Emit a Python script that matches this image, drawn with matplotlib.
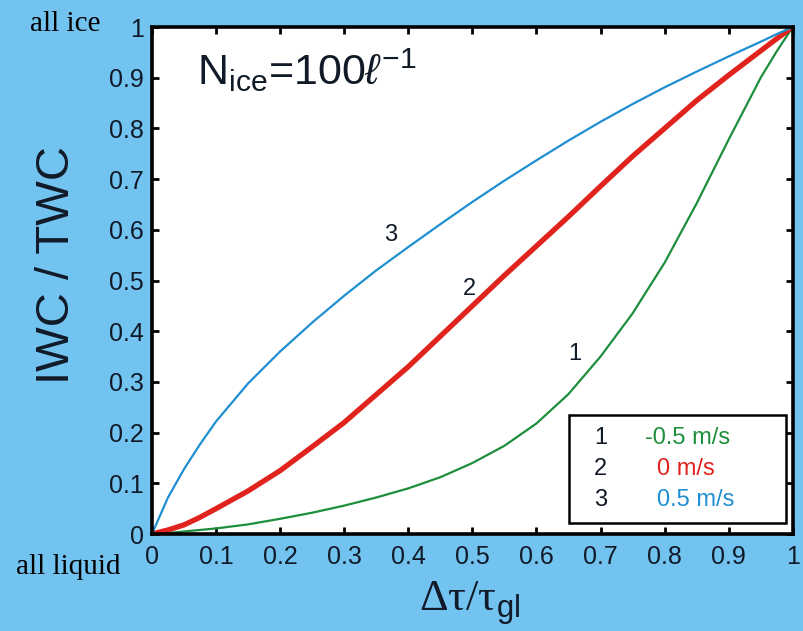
import matplotlib
matplotlib.use("Agg")
import matplotlib.pyplot as plt
from matplotlib.patches import Rectangle

# values
x = [0.0, 0.025, 0.05, 0.075, 0.1, 0.15, 0.2, 0.25, 0.3, 0.35, 0.4, 0.45, 0.5,
     0.55, 0.6, 0.65, 0.7, 0.75, 0.8, 0.85, 0.9, 0.95, 0.975, 1.0]
ratio_down = [0.0, 0.002, 0.005, 0.008, 0.011, 0.019, 0.03, 0.042, 0.056, 0.072, 0.09, 0.112, 0.14,
              0.174, 0.218, 0.276, 0.35, 0.435, 0.535, 0.652, 0.778, 0.9, 0.952, 1.0]
ratio_zero = [0.0, 0.008, 0.018, 0.033, 0.05, 0.085, 0.125, 0.172, 0.22, 0.275, 0.33, 0.39, 0.45,
              0.51, 0.568, 0.626, 0.686, 0.745, 0.80, 0.855, 0.905, 0.953, 0.977, 1.0]
ratio_up = [0.0, 0.072, 0.128, 0.177, 0.222, 0.297, 0.36, 0.417, 0.47, 0.52, 0.566, 0.611, 0.655,
            0.697, 0.737, 0.776, 0.813, 0.848, 0.881, 0.912, 0.942, 0.971, 0.986, 1.0]

curve_ids = ["1", "2", "3"]
speeds = ["-0.5 m/s", "0 m/s", "0.5 m/s"]
colors = ["#1d8f3c", "#e0231d", "#1f8fd2"]
ticks = [0, 0.1, 0.2, 0.3, 0.4, 0.5, 0.6, 0.7, 0.8, 0.9, 1]
tick_labels = ["0", "0.1", "0.2", "0.3", "0.4", "0.5", "0.6", "0.7", "0.8", "0.9", "1"]

plt.rcParams["font.family"] = ["Liberation Sans", "DejaVu Sans"]
plt.rcParams["mathtext.fontset"] = "custom"
plt.rcParams["mathtext.rm"] = "Liberation Serif"
plt.rcParams["mathtext.sf"] = "Liberation Sans"
plt.rcParams["mathtext.it"] = "Liberation Sans:italic"

bg = "#72c3ef"
ink = "#111a28"

fig = plt.figure(figsize=(8.04, 6.31), dpi=100, facecolor=bg)
ax = fig.add_axes([0.189, 0.1537, 0.797, 0.8035])

ax.plot(x, ratio_down, color=colors[0], lw=1.6, solid_joinstyle="round")
ax.plot(x, ratio_zero, color=colors[1], lw=3.8, solid_joinstyle="round")
ax.plot(x, ratio_up, color=colors[2], lw=1.6, solid_joinstyle="round")

ax.set_xlim(0, 1)
ax.set_ylim(0, 1)
ax.set_xticks(ticks)
ax.set_xticklabels(tick_labels)
ax.set_yticks(ticks)
ax.set_yticklabels(tick_labels)
ax.tick_params(direction="in", length=5, width=2, top=True, right=True,
               labelsize=18, labelcolor=ink)
ax.tick_params(axis="x", pad=8)
ax.tick_params(axis="y", pad=6)
for s in ax.spines.values():
    s.set_linewidth(2.6)

# curve numbers
ax.text(0.66, 0.356, curve_ids[0], fontsize=17, ha="center", va="center", color=ink)
ax.text(0.496, 0.484, curve_ids[1], fontsize=17, ha="center", va="center", color=ink)
ax.text(0.372, 0.589, curve_ids[2], fontsize=17, ha="center", va="center", color=ink)

# N_ice annotation
ax.text(0.07, 0.886, r"$\mathsf{N_{ice}}$=100$\ell^{\mathsf{-1}}$",
        fontsize=31, ha="left", va="baseline", color=ink)

# legend box
ax.add_patch(Rectangle((0.651, 0.022), 0.338, 0.213, fill=False, lw=1.8,
                       ec="black", transform=ax.transData, zorder=5))
rows = [0.19, 0.128, 0.068]
for i in range(3):
    ax.text(0.700, rows[i], curve_ids[i], fontsize=17, ha="center", va="center", color=ink)
    ax.text(0.77 if i == 0 else 0.788, rows[i], speeds[i], fontsize=17,
            ha="left", va="center", color=colors[i])

# axis labels
fig.text(57 / 804, 1 - 265 / 631, "IWC / TWC", rotation=90, fontsize=34,
         ha="center", va="center", color=ink)
fig.text(470 / 804, 1 - 603 / 631, r"$\mathrm{\Delta\tau/\tau}_{\mathsf{gl}}$",
         fontsize=32, ha="center", va="center", color=ink)

fig.text(65 / 804, 1 - 24 / 631, "all ice", family="Liberation Serif",
         fontsize=21, ha="center", va="center", color="black")
fig.text(68 / 804, 1 - 567 / 631, "all liquid", family="Liberation Serif",
         fontsize=21, ha="center", va="center", color="black")

fig.savefig("out.png", dpi=100, facecolor=bg)
